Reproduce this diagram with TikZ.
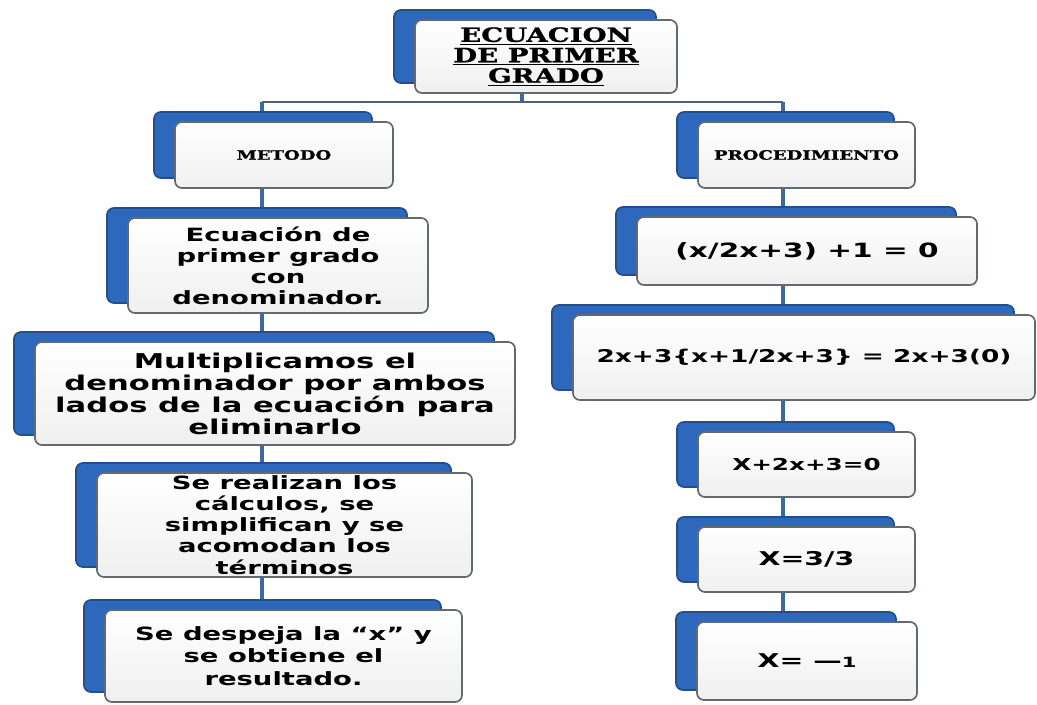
\documentclass[tikz,border=0pt]{standalone}
\usepackage{fontspec}
\usetikzlibrary{shadows,backgrounds}
\newfontfamily\boxfont{DejaVu Sans}[FakeStretch=1.5]
\newfontfamily\headfont{DejaVu Serif}[FakeStretch=1.4, BoldFeatures={FakeBold=1.2}]
\definecolor{boxblue}{RGB}{46,104,188}
\definecolor{boxedge}{RGB}{100,105,112}
\definecolor{linkblue}{RGB}{62,104,160}
\definecolor{bargray}{RGB}{80,96,122}

\begin{document}
\begin{tikzpicture}[x=0.025cm, y=0.025cm,
    card/.style = {draw=boxedge, line width=1.2pt, rounded corners=5pt, top color=white, bottom color=gray!12,
        align=center, inner sep=1pt,
        general shadow={fill=boxblue, draw=boxblue!75!black, shadow xshift=-0.525cm, shadow yshift=0.25cm}},
    head/.style = {card, font=\headfont\bfseries\fontsize{14}{14.5}\selectfont},
    branch/.style = {card, font=\headfont\bfseries\fontsize{9.2}{10}\selectfont},
    link/.style = {draw=linkblue, line width=2.5pt},
    bar/.style = {draw=bargray, line width=1.8pt}]
    \useasboundingbox (0,0) rectangle (1037,704);

    % top and the two branches
    \node[head, minimum width=6.55cm, minimum height=1.825cm] (title) at (546,647.5)
        {\underline{ECUACION}\\\underline{DE PRIMER}\\\underline{GRADO}};
    \node[branch, minimum width=5.45cm, minimum height=1.65cm] (metodo) at (284,549) {METODO};
    \node[branch, minimum width=5.425cm, minimum height=1.65cm] (proc) at (806.5,549) {PROCEDIMIENTO};

    % left column
    \node[card, font=\boxfont\bfseries\fontsize{13}{15}\selectfont, minimum width=7.5cm, minimum height=2.375cm] (ecua) at (278,438.5)
        {Ecuación de\\primer grado\\con\\denominador.};
    \node[card, font=\boxfont\bfseries\fontsize{14.5}{15.6}\selectfont, minimum width=12cm, minimum height=2.575cm] (multi) at (275,310.5)
        {Multiplicamos el\\denominador por ambos\\lados de la ecuación para\\eliminarlo};
    \node[card, font=\boxfont\bfseries\fontsize{13}{15}\selectfont, minimum width=9.375cm, minimum height=2.6cm] (calc) at (284.5,179)
        {Se realizan los\\cálculos, se\\simplifican y se\\acomodan los\\términos};
    \node[card, font=\boxfont\bfseries\fontsize{13}{16}\selectfont, minimum width=8.925cm, minimum height=2.3cm] (desp) at (283.5,48)
        {Se despeja la “x” y\\se obtiene el\\resultado.};

    % right column
    \node[card, font=\boxfont\bfseries\fontsize{14}{16}\selectfont, minimum width=8.5cm, minimum height=1.7cm] (paso1) at (807,453)
        {(x/2x+3) +1 = 0};
    \node[card, font=\boxfont\bfseries\fontsize{12.5}{15}\selectfont, minimum width=11.55cm, minimum height=2.125cm] (paso2) at (804,346.5)
        {2x+3\{x+1/2x+3\} = 2x+3(0)};
    \node[card, font=\boxfont\bfseries\fontsize{11.7}{14}\selectfont, minimum width=5.425cm, minimum height=1.625cm] (paso3) at (806.5,239.5)
        {X+2x+3=0};
    \node[card, font=\boxfont\bfseries\fontsize{13.5}{15}\selectfont, minimum width=5.425cm, minimum height=1.625cm] (paso4) at (806.5,144.5)
        {X=3/3};
    \node[card, font=\boxfont\bfseries\fontsize{13.5}{15}\selectfont, minimum width=5.5cm, minimum height=1.95cm] (paso5) at (807,43)
        {X= —{\fontsize{10}{12}\selectfont 1}};

    \coordinate (tsp) at (522,602);
    \coordinate (lsp) at (262,602);
    \coordinate (rsp) at (783,602);

    \begin{scope}[on background layer]
    \fill[white] (0,0) rectangle (1037,704);
    \draw[link] (title.south -| tsp) -- (tsp);
    \draw[bar] (lsp) -- (rsp);
    \draw[link] (lsp) -- (metodo.north -| lsp);
    \draw[link] (rsp) -- (proc.north -| rsp);
    \draw[link] (metodo.south -| lsp) -- (ecua.north -| lsp);
    \draw[link] (ecua.south -| lsp) -- (multi.north -| lsp);
    \draw[link] (multi.south -| lsp) -- (calc.north -| lsp);
    \draw[link] (calc.south -| lsp) -- (desp.north -| lsp);
    \draw[link] (proc.south -| rsp) -- (paso1.north -| rsp);
    \draw[link] (paso1.south -| rsp) -- (paso2.north -| rsp);
    \draw[link] (paso2.south -| rsp) -- (paso3.north -| rsp);
    \draw[link] (paso3.south -| rsp) -- (paso4.north -| rsp);
    \draw[link] (paso4.south -| rsp) -- (paso5.north -| rsp);
    \end{scope}
\end{tikzpicture}
\end{document}
